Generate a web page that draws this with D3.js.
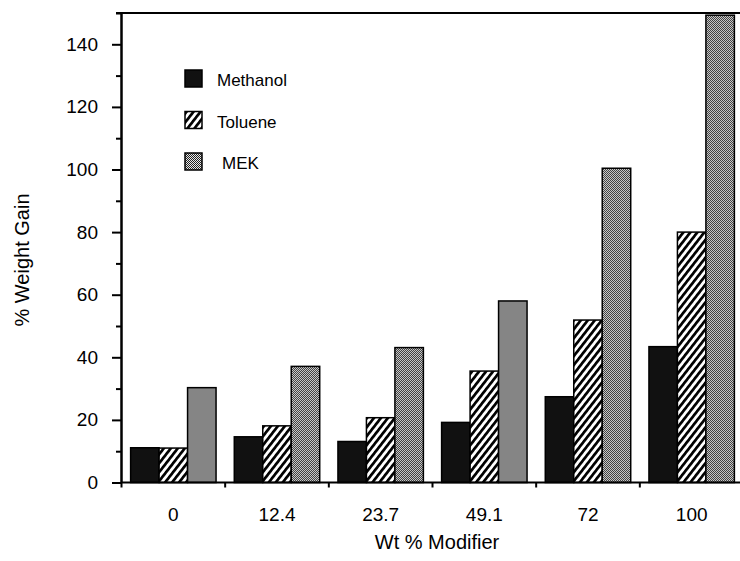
<!DOCTYPE html>
<html lang="en">
<head>
<meta charset="UTF-8">
<title>weight gain</title>
<script src="https://cdn.jsdelivr.net/npm/d3@7/dist/d3.min.js"></script>
<style>
    body { margin: 0; background: #fff; }
    svg text { font-family: "Liberation Sans", Arial, sans-serif; fill: #000; }
    .axis path, .axis line { stroke: #000; stroke-width: 2; fill: none; }
    .axis text { font-size: 19px; }
</style>
</head>
<body>
<svg id="chart"></svg>
<script>
// data
var categories = ["0", "12.4", "23.7", "49.1", "72", "100"];
var series = ["Methanol", "Toluene", "MEK"];
var methanol = [11.1, 14.6, 13.1, 19.2, 27.4, 43.4];
var toluene  = [11.0, 18.1, 20.7, 35.6, 51.9, 80.0];
var mek      = [30.3, 37.1, 43.1, 58.0, 100.4, 149.3];
var yMajorTicks = [0, 20, 40, 60, 80, 100, 120, 140];
var yMinorTicks = [10, 30, 50, 70, 90, 110, 130, 150];

var values = [methanol, toluene, mek];
var W = 740, H = 561;

var svg = d3.select("#chart").attr("width", W).attr("height", H);

// patterns
var defs = svg.append("defs");
var hatch = defs.append("pattern")
    .attr("id", "hatch")
    .attr("patternUnits", "userSpaceOnUse")
    .attr("width", 5.5).attr("height", 5.5)
    .attr("patternTransform", "rotate(38)");
hatch.append("rect").attr("width", 5.5).attr("height", 5.5).attr("fill", "#fff");
hatch.append("rect").attr("width", 2.7).attr("height", 5.5).attr("fill", "#000");

var dots = defs.append("pattern")
    .attr("id", "dots")
    .attr("patternUnits", "userSpaceOnUse")
    .attr("width", 2).attr("height", 2);
dots.append("rect").attr("width", 2).attr("height", 2).attr("fill", "#e8e8e8");
dots.append("rect").attr("width", 1).attr("height", 1).attr("fill", "#222");
dots.append("rect").attr("x", 1).attr("y", 1).attr("width", 1).attr("height", 1).attr("fill", "#222");

var fills = ["#111", "url(#hatch)", "url(#dots)"];

// scales
var x0 = d3.scaleBand().domain(categories).range([121.5, 743.5]);
var x1 = d3.scaleBand().domain(series).range([0, x0.bandwidth()]).paddingOuter(0.32);
var y = d3.scaleLinear().domain([0, 150]).range([482.5, 13]);

// bars
var groups = svg.selectAll(".grp")
    .data(categories)
    .enter().append("g")
    .attr("class", "grp")
    .attr("transform", function (d) { return "translate(" + x0(d) + ",0)"; });

groups.selectAll("rect")
    .data(function (d, i) {
        return series.map(function (s, k) { return { s: s, k: k, v: values[k][i] }; });
    })
    .enter().append("rect")
    .attr("x", function (d) { return x1(d.s); })
    .attr("y", function (d) { return y(d.v); })
    .attr("width", x1.bandwidth())
    .attr("height", function (d) { return y(0) - y(d.v); })
    .attr("fill", function (d) { return fills[d.k]; })
    .attr("stroke", "#000")
    .attr("stroke-width", 1.5);

// y axis
var yAxis = d3.axisLeft(y).tickValues(yMajorTicks).tickSize(9).tickSizeOuter(0).tickPadding(14);
svg.append("g").attr("class", "axis").attr("transform", "translate(121,0)").call(yAxis);

var yMinor = d3.axisLeft(y).tickValues(yMinorTicks).tickSize(5).tickSizeOuter(0).tickFormat("");
svg.append("g").attr("class", "axis").attr("transform", "translate(121,0)").call(yMinor);

// x axis: labels at centres, ticks at group boundaries
var xAxis = d3.axisBottom(x0).tickSize(0).tickSizeOuter(0).tickPadding(25);
var xg = svg.append("g").attr("class", "axis").attr("transform", "translate(0," + y(0) + ")").call(xAxis);
xg.select(".domain").attr("d", "M121,0H" + W);

svg.append("g").attr("class", "axis")
    .selectAll("line")
    .data(categories)
    .enter().append("line")
    .attr("x1", function (d) { return x0(d); })
    .attr("x2", function (d) { return x0(d); })
    .attr("y1", y(0))
    .attr("y2", y(0) + 5);

// top frame line
svg.append("line")
    .attr("x1", 116).attr("x2", W)
    .attr("y1", y(150)).attr("y2", y(150))
    .attr("stroke", "#000").attr("stroke-width", 2);

// axis titles
svg.append("text")
    .attr("x", 437).attr("y", 549)
    .attr("text-anchor", "middle")
    .style("font-size", "20px")
    .text("Wt % Modifier");

svg.append("text")
    .attr("transform", "translate(29,260) rotate(-90)")
    .attr("text-anchor", "middle")
    .style("font-size", "20px")
    .text("% Weight Gain");

// legend
var legend = svg.selectAll(".leg")
    .data(series)
    .enter().append("g")
    .attr("class", "leg")
    .attr("transform", function (d, i) { return "translate(185," + (70 + i * 41.5) + ")"; });

legend.append("rect")
    .attr("width", 17).attr("height", 17)
    .attr("fill", function (d, i) { return fills[i]; })
    .attr("stroke", "#000").attr("stroke-width", 1.5);

legend.append("text")
    .attr("x", function (d, i) { return i === 2 ? 37 : 32; })
    .attr("y", 16)
    .style("font-size", "17px")
    .text(function (d) { return d; });
</script>
</body>
</html>
